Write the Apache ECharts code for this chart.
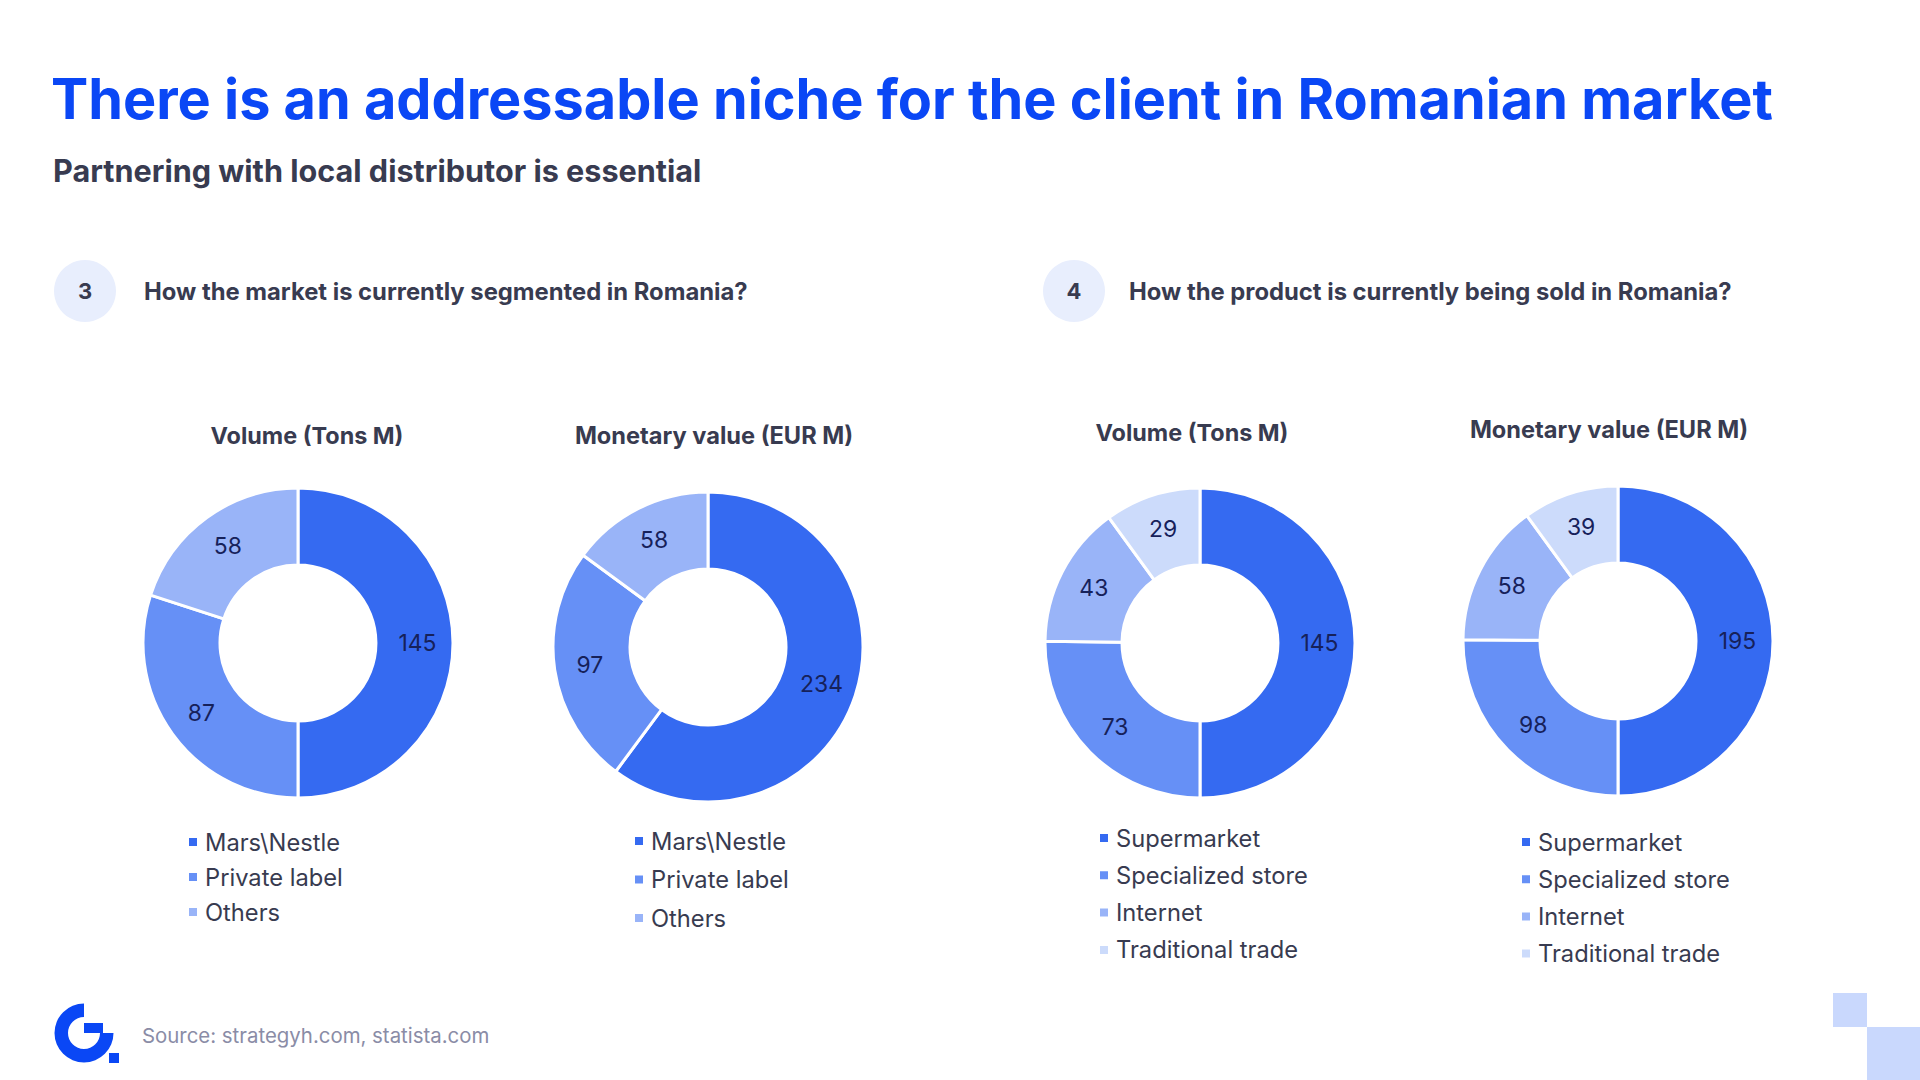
<!DOCTYPE html>
<html>
<head>
<meta charset="utf-8">
<script src="https://cdn.jsdelivr.net/npm/echarts@6/dist/echarts.min.js"></script>
<style>html,body{margin:0;padding:0;background:#fff}#c{width:1920px;height:1080px}</style>
</head>
<body>
<div id="c"></div>
<script>
/* Romanian market slide: two donut pairs + slide furniture via graphic */
const segNames = ['Mars\\Nestle', 'Private label', 'Others'];
const segVolume = [145, 87, 58];
const segValue = [234, 97, 58];
const chanNames = ['Supermarket', 'Specialized store', 'Internet', 'Traditional trade'];
const chanVolume = [145, 73, 43, 29];
const chanValue = [195, 98, 58, 39];

const FONT = 'Inter';
const BLUE = '#0a47f5', DARK = '#383b50', NAVY = '#16215a';
const COLORS = ['#356af1', '#6690f6', '#99b4f8', '#ccdbfb'];

// fit font size so a text spans the width it has on the slide
const mctx = document.createElement('canvas').getContext('2d');
function fit(text, weight, width) {
  mctx.font = weight + ' 100px ' + FONT;
  return Math.round(1000 * width / mctx.measureText(text).width) / 10;
}
const LEG = fit('Specialized store', 'normal', 192);
const LBL = fit('145', 'normal', 38);

function donut(names, vals, cx, cy) {
  return {
    type: 'pie', center: [cx, cy], radius: [78, 155], startAngle: 90, clockwise: true,
    avoidLabelOverlap: false, animation: false, emphasis: { disabled: true },
    label: { show: true, position: 'inside', formatter: '{c}', fontFamily: FONT, fontSize: LBL, color: NAVY },
    labelLine: { show: false },
    itemStyle: { borderColor: '#fff', borderWidth: 3 },
    data: names.map((n, i) => ({ name: n, value: vals[i], itemStyle: { color: COLORS[i] } })),
  };
}
function legend(names, left, top, gap) {
  return {
    data: names, orient: 'vertical', left, top, padding: 0, itemGap: gap,
    icon: 'rect', itemWidth: 10, itemHeight: 10, selectedMode: false,
    textStyle: { fontFamily: FONT, fontSize: LEG, color: DARK, padding: [0, 0, 0, 2] },
  };
}
function txt(text, x, y, size, weight, color, align) {
  return { type: 'text', x, y, style: { text, fontFamily: FONT, fontSize: size, fontWeight: weight, fill: color, textAlign: align || 'left', textVerticalAlign: 'middle' } };
}

const title = 'There is an addressable niche for the client in Romanian market';
const sub = 'Partnering with local distributor is essential';
const q3 = 'How the market is currently segmented in Romania?';
const q4 = 'How the product is currently being sold in Romania?';
const src = 'Source: strategyh.com, statista.com';
const volT = 'Volume (Tons M)', valT = 'Monetary value (EUR M)';
const volS = fit(volT, 'bold', 193), valS = fit(valT, 'bold', 278);

const chart = echarts.init(document.getElementById('c'), null, { renderer: 'svg' });
chart.setOption({
  backgroundColor: '#fff',
  animation: false,
  legend: [
    legend(segNames, 187, 830, 11),
    legend(segNames, 633, 829, 14.5),
    legend(chanNames, 1098, 826, 13.3),
    legend(chanNames, 1520, 830, 13.2),
  ],
  series: [
    donut(segNames, segVolume, 298, 643),
    donut(segNames, segValue, 708, 647),
    donut(chanNames, chanVolume, 1200, 643),
    donut(chanNames, chanValue, 1618, 641),
  ],
  graphic: [
    txt(title, 51, 98, fit(title, 'bold', 1722), 'bold', BLUE),
    txt(sub, 53, 170, fit(sub, 'bold', 649), 'bold', DARK),
    { type: 'circle', shape: { cx: 85, cy: 291, r: 31 }, style: { fill: '#e8eefd' } },
    txt('3', 85, 291, 22, 'bold', DARK, 'center'),
    txt(q3, 144, 291, fit(q3, 'bold', 604), 'bold', DARK),
    { type: 'circle', shape: { cx: 1074, cy: 291, r: 31 }, style: { fill: '#e8eefd' } },
    txt('4', 1074, 291, 22, 'bold', DARK, 'center'),
    txt(q4, 1129, 291, fit(q4, 'bold', 602), 'bold', DARK),
    txt(volT, 307, 435, volS, 'bold', DARK, 'center'),
    txt(valT, 714, 435, valS, 'bold', DARK, 'center'),
    txt(volT, 1192, 432, volS, 'bold', DARK, 'center'),
    txt(valT, 1609, 429, valS, 'bold', DARK, 'center'),
    // logo
    { type: 'sector', shape: { cx: 84, cy: 1033, r: 29.5, r0: 16, startAngle: 0, endAngle: Math.PI * 1.5, clockwise: true }, style: { fill: BLUE } },
    { type: 'rect', shape: { x: 84, y: 1023, width: 19, height: 10 }, style: { fill: BLUE } },
    { type: 'rect', shape: { x: 109, y: 1053, width: 10, height: 10 }, style: { fill: BLUE } },
    txt(src, 142, 1035, fit(src, 'normal', 347), 'normal', '#8a8ca6'),
    // corner squares
    { type: 'rect', shape: { x: 1833, y: 993, width: 34, height: 34 }, style: { fill: '#c9d8fd' } },
    { type: 'rect', shape: { x: 1867, y: 1027, width: 53, height: 53 }, style: { fill: '#c9d8fd' } },
  ],
});
</script>
</body>
</html>
